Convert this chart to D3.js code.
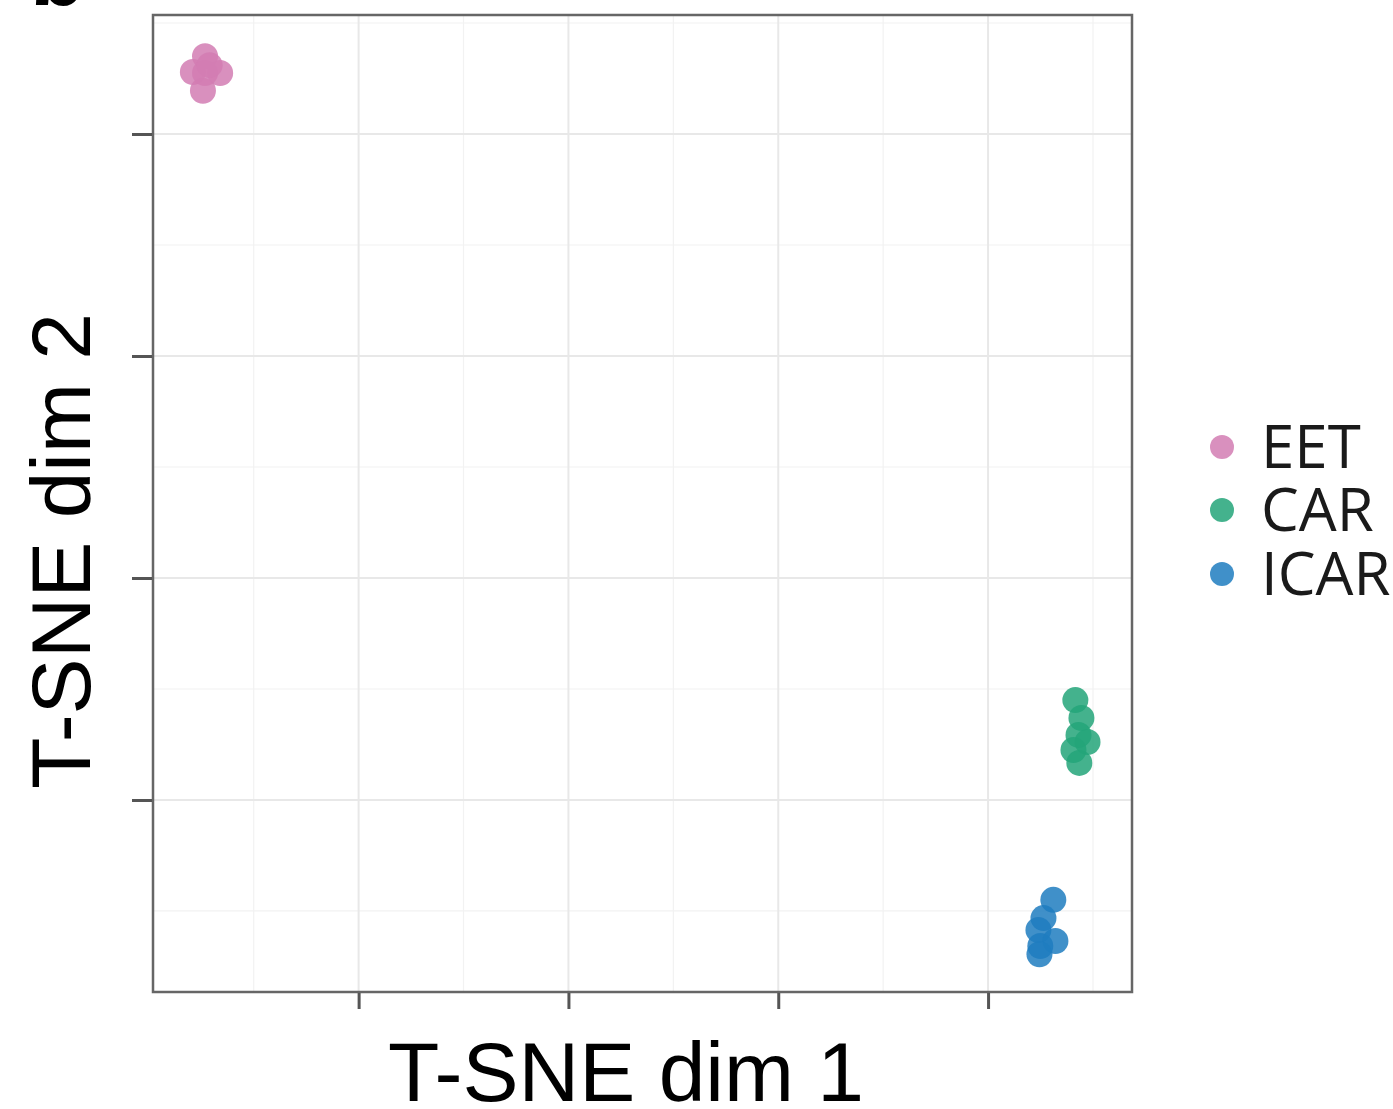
<!DOCTYPE html>
<html>
<head>
<meta charset="utf-8">
<script src="https://cdn.jsdelivr.net/npm/d3@7"></script>
<style>
  html, body { margin: 0; padding: 0; background: #fff; }
  svg { display: block; }
</style>
</head>
<body>
<svg id="chart" width="1393" height="1109"></svg>
<script>
// ---- Data ----
const groups = ["EET", "CAR", "ICAR"];
const groupColors = ["#d27db3", "#23a479", "#1f7cc0"];

const eetX = [-27.32, -27.90, -26.60, -27.42, -27.32, -27.10];
const eetY = [23.50, 22.79, 22.75, 21.95, 22.75, 23.10];

const carX = [14.16, 14.45, 14.74, 14.07, 14.35, 14.31];
const carY = [-5.50, -6.31, -7.39, -7.75, -8.33, -7.07];

const icarX = [13.11, 12.64, 12.40, 12.49, 13.21, 12.45];
const icarY = [-14.50, -15.32, -15.86, -16.58, -16.35, -16.95];

const xMajorTicks = [-20, -10, 0, 10];
const xMinorTicks = [-25, -15, -5, 5, 15];
const yMajorTicks = [-10, 0, 10, 20];
const yMinorTicks = [-15, -5, 5, 15, 25];
const xDomain = [-29.8, 16.86];
const yDomain = [-18.65, 25.36];

// ---- Layout ----
const svg = d3.select("#chart");
const panel = { left: 153, top: 15, right: 1132, bottom: 992 };

const x = d3.scaleLinear().domain(xDomain).range([panel.left, panel.right]);
const y = d3.scaleLinear().domain(yDomain).range([panel.bottom, panel.top]);

// partial panel tag at the very top-left
svg.append("text")
  .attr("x", 30).attr("y", 5)
  .attr("font-family", "Liberation Sans, Arial, sans-serif")
  .attr("font-weight", "bold")
  .attr("font-size", 90)
  .attr("fill", "#000")
  .text("b");

// grid
const grid = svg.append("g");
grid.selectAll("line.xminor").data(xMinorTicks.filter(v => x(v) > panel.left && x(v) < panel.right))
  .join("line")
  .attr("x1", d => x(d)).attr("x2", d => x(d))
  .attr("y1", panel.top).attr("y2", panel.bottom)
  .attr("stroke", "#f2f2f2").attr("stroke-width", 1.2);
grid.selectAll("line.yminor").data(yMinorTicks.filter(v => y(v) > panel.top && y(v) < panel.bottom))
  .join("line")
  .attr("y1", d => y(d)).attr("y2", d => y(d))
  .attr("x1", panel.left).attr("x2", panel.right)
  .attr("stroke", "#f2f2f2").attr("stroke-width", 1.2);
grid.selectAll("line.xmajor").data(xMajorTicks)
  .join("line")
  .attr("x1", d => x(d)).attr("x2", d => x(d))
  .attr("y1", panel.top).attr("y2", panel.bottom)
  .attr("stroke", "#e8e8e8").attr("stroke-width", 2);
grid.selectAll("line.ymajor").data(yMajorTicks)
  .join("line")
  .attr("y1", d => y(d)).attr("y2", d => y(d))
  .attr("x1", panel.left).attr("x2", panel.right)
  .attr("stroke", "#e8e8e8").attr("stroke-width", 2);

// points
const series = [
  { name: groups[0], xs: eetX, ys: eetY, color: groupColors[0] },
  { name: groups[1], xs: carX, ys: carY, color: groupColors[1] },
  { name: groups[2], xs: icarX, ys: icarY, color: groupColors[2] }
];
const pts = svg.append("g");
series.forEach(s => {
  const data = s.xs.map((v, i) => [v, s.ys[i]]);
  pts.append("g").selectAll("circle").data(data).join("circle")
    .attr("cx", d => x(d[0])).attr("cy", d => y(d[1]))
    .attr("r", 13)
    .attr("fill", s.color)
    .attr("fill-opacity", 0.85);
});

// panel border
svg.append("rect")
  .attr("x", panel.left).attr("y", panel.top)
  .attr("width", panel.right - panel.left).attr("height", panel.bottom - panel.top)
  .attr("fill", "none").attr("stroke", "#666").attr("stroke-width", 2.5);

// axes (ticks only, no labels)
const xAxis = d3.axisBottom(x).tickValues(xMajorTicks).tickFormat("").tickSize(16).tickSizeOuter(0);
const yAxis = d3.axisLeft(y).tickValues(yMajorTicks).tickFormat("").tickSize(20).tickSizeOuter(0);
const gx = svg.append("g").attr("transform", `translate(0,${panel.bottom + 1})`).call(xAxis);
const gy = svg.append("g").attr("transform", `translate(${panel.left - 1},0)`).call(yAxis);
[gx, gy].forEach(g => {
  g.select(".domain").remove();
  g.selectAll(".tick line").attr("stroke", "#555").attr("stroke-width", 3);
});

// axis titles
svg.append("text")
  .attr("x", 626).attr("y", 1101)
  .attr("text-anchor", "middle")
  .attr("font-family", "Liberation Sans, Arial, sans-serif")
  .attr("font-size", 84)
  .attr("fill", "#000")
  .text("T-SNE dim 1");

svg.append("text")
  .attr("transform", "translate(90,551) rotate(-90)")
  .attr("text-anchor", "middle")
  .attr("font-family", "Liberation Sans, Arial, sans-serif")
  .attr("font-size", 84)
  .attr("fill", "#000")
  .text("T-SNE dim 2");

// legend
const legend = svg.append("g");
const legendY = [447, 510, 574];
groups.forEach((g, i) => {
  legend.append("circle")
    .attr("cx", 1222).attr("cy", legendY[i])
    .attr("r", 12)
    .attr("fill", groupColors[i]).attr("fill-opacity", 0.85);
  legend.append("text")
    .attr("x", 1261).attr("y", legendY[i] + 21)
    .attr("font-family", "Open Sans, Noto Sans, sans-serif")
    .attr("font-size", 60)
    .attr("fill", "#1a1a1a")
    .text(g);
});
</script>
</body>
</html>
